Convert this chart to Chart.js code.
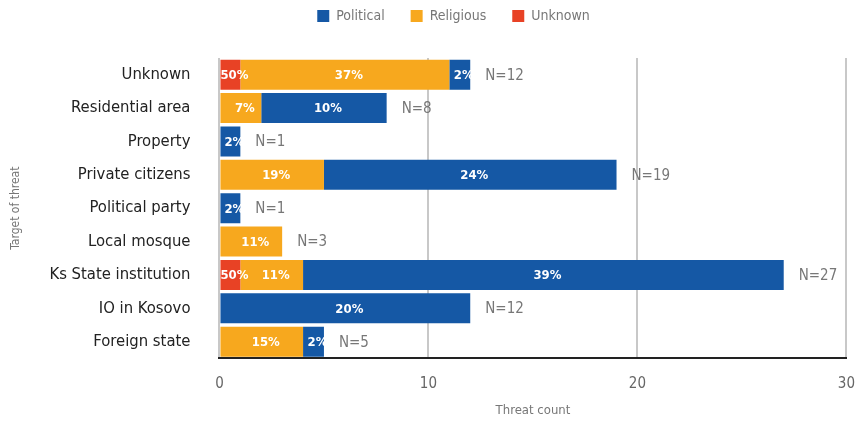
<!DOCTYPE html>
<html>
<head>
<meta charset="utf-8">
<script src="https://cdn.jsdelivr.net/npm/chart.js@4.4.1/dist/chart.umd.min.js"></script>
<style>
  html, body { margin: 0; padding: 0; background: #fff; }
  #wrap { width: 859px; height: 425px; }
</style>
</head>
<body>
<div id="wrap"><canvas id="chart-1"></canvas></div>
<script>
const targets = ["Unknown", "Residential area", "Property", "Private citizens", "Political party",
  "Local mosque", "Ks State institution", "IO in Kosovo", "Foreign state"];

// threat counts per type
const unknownCounts   = [1, 0, 0, 0, 0, 0, 1, 0, 0];
const religiousCounts = [10, 2, 0, 5, 0, 3, 3, 0, 4];
const politicalCounts = [1, 6, 1, 14, 1, 0, 23, 12, 1];

// share labels shown inside the bars
const unknownPct   = ["50%", "", "", "", "", "", "50%", "", ""];
const religiousPct = ["37%", "7%", "", "19%", "", "11%", "11%", "", "15%"];
const politicalPct = ["2%", "10%", "2%", "24%", "2%", "", "39%", "20%", "2%"];

const totals = [12, 8, 1, 19, 1, 3, 27, 12, 5];
const xTicks = [0, 10, 20, 30];

const FONT = "'DejaVu Sans Condensed', 'Liberation Sans', sans-serif";

const barLabels = {
  id: "barLabels",
  afterLayout(chart) {
    // legend sits higher and a bit to the right in the original
    chart.legend.top -= 25;
    chart.legend.bottom -= 25;
    chart.legend.left += 22;
    chart.legend.right += 22;
  },
  afterDatasetsDraw(chart) {
    const ctx = chart.ctx;
    ctx.save();
    ctx.textBaseline = "middle";
    const ends = [];
    chart.data.datasets.forEach((ds, i) => {
      const meta = chart.getDatasetMeta(i);
      meta.data.forEach((bar, j) => {
        if (!ds.data[j]) return;
        ends[j] = Math.max(ends[j] || 0, bar.x);
        const txt = ds.pct[j];
        if (!txt) return;
        ctx.font = "bold 13px " + FONT;
        ctx.fillStyle = "#fff";
        ctx.textAlign = "center";
        ctx.fillText(txt, (bar.base + bar.x) / 2 + 4, bar.y + 1);
      });
    });
    const meta0 = chart.getDatasetMeta(0);
    totals.forEach((n, j) => {
      ctx.font = "15px " + FONT;
      ctx.fillStyle = "#777";
      ctx.textAlign = "left";
      ctx.fillText("N=" + n, ends[j] + 15, meta0.data[j].y + 1);
    });
    ctx.restore();
  }
};

const ctx1 = document.getElementById("chart-1").getContext("2d");
const myChart = new Chart(ctx1, {
  type: "bar",
  data: {
    labels: targets,
    datasets: [
      { label: "Unknown", data: unknownCounts, pct: unknownPct, backgroundColor: "#e84225" },
      { label: "Religious", data: religiousCounts, pct: religiousPct, backgroundColor: "#f7a81e" },
      { label: "Political", data: politicalCounts, pct: politicalPct, backgroundColor: "#1558a5" },
    ],
  },
  options: {
    indexAxis: "y",
    responsive: true,
    maintainAspectRatio: false,
    animation: false,
    layout: { padding: { top: 8, right: 0, left: 4, bottom: 7 } },
    datasets: { bar: { barPercentage: 0.9, categoryPercentage: 1 } },
    plugins: {
      tooltip: { enabled: false },
      legend: {
        position: "top",
        reverse: true,
        labels: {
          boxWidth: 12, boxHeight: 12, padding: 26,
          color: "#777", font: { family: FONT, size: 14 }
        }
      }
    },
    scales: {
      x: {
        stacked: true,
        min: 0, max: 30,
        afterBuildTicks: (axis) => { axis.ticks = xTicks.map(v => ({ value: v })); },
        grid: { color: "#c8c8c8", lineWidth: 2, drawTicks: true, tickLength: 13, tickColor: "rgba(0,0,0,0)" },
        border: { color: "#222", width: 2 },
        ticks: { color: "#666", font: { family: FONT, size: 15 }, padding: 4 },
        title: { display: true, text: "Threat count", color: "#777", font: { family: FONT, size: 13 }, padding: { top: 5, bottom: 0 } }
      },
      y: {
        stacked: true,
        grid: { display: false },
        border: { display: false },
        ticks: { color: "#222", font: { family: FONT, size: 16.5 }, padding: 21 },
        title: { display: true, text: "Target of threat", color: "#777", font: { family: FONT, size: 12 }, padding: { top: 5, bottom: 5 } }
      }
    }
  },
  plugins: [barLabels]
});
</script>
</body>
</html>
